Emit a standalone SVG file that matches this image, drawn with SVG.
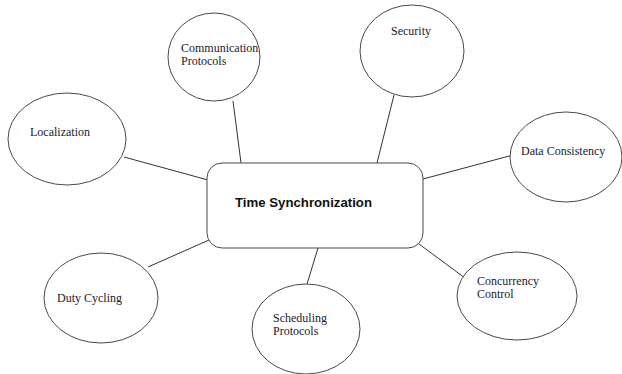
<svg xmlns="http://www.w3.org/2000/svg" width="622" height="374" viewBox="0 0 622 374">
<style>
.n{fill:#fff;stroke:#4a4a4a;stroke-width:1}
.t{font-family:"Liberation Serif","Times New Roman",serif;font-size:12px;fill:#1a1a30}
.c line{stroke:#333;stroke-width:1}
.b{font-family:"Liberation Sans",Arial,sans-serif;font-size:12.5px;font-weight:bold;fill:#111}
</style>
<rect width="622" height="374" fill="#fff"/>
<g class="c">
<line x1="233" y1="101" x2="241" y2="163"/>
<line x1="394" y1="95" x2="377" y2="163"/>
<line x1="124" y1="157" x2="208" y2="180"/>
<line x1="513" y1="155" x2="423" y2="179"/>
<line x1="148" y1="267" x2="209" y2="240"/>
<line x1="307" y1="284" x2="318" y2="248"/>
<line x1="465" y1="278" x2="419" y2="244"/>
</g>
<g id="center">
<rect class="n" x="207" y="163" width="216" height="85" rx="15" ry="15"/>
<text class="b" x="235" y="207" textLength="137" lengthAdjust="spacingAndGlyphs">Time Synchronization</text>
</g>
<g id="comm">
<ellipse class="n" cx="214" cy="57" rx="46" ry="44"/>
<text class="t" x="181" y="52">Communication</text>
<text class="t" x="181" y="65">Protocols</text>
</g>
<g id="security">
<ellipse class="n" cx="412" cy="51" rx="52" ry="46"/>
<text class="t" x="391" y="35">Security</text>
</g>
<g id="localization">
<ellipse class="n" cx="67" cy="139" rx="59" ry="46"/>
<text class="t" x="30" y="136">Localization</text>
</g>
<g id="data">
<ellipse class="n" cx="566" cy="157" rx="56" ry="45"/>
<text class="t" x="521" y="155">Data Consistency</text>
</g>
<g id="duty">
<ellipse class="n" cx="101" cy="298" rx="57" ry="45"/>
<text class="t" x="57" y="302">Duty Cycling</text>
</g>
<g id="scheduling">
<ellipse class="n" cx="306" cy="329" rx="54" ry="45"/>
<text class="t" x="273" y="322">Scheduling</text>
<text class="t" x="273" y="335">Protocols</text>
</g>
<g id="concurrency">
<ellipse class="n" cx="517" cy="296" rx="60" ry="44"/>
<text class="t" x="477" y="285">Concurrency</text>
<text class="t" x="477" y="298">Control</text>
</g>
</svg>
